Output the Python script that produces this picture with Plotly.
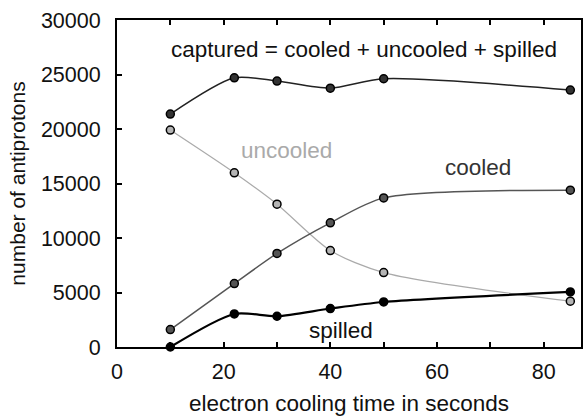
import plotly.graph_objects as go

# Electron cooling of antiprotons: counts vs cooling time
time_s = [10, 22, 30, 40, 50, 85]
captured = [21370, 24700, 24400, 23750, 24610, 23570]
uncooled = [19900, 15980, 13100, 8850, 6830, 4200]
cooled = [1600, 5820, 8580, 11390, 13680, 14390]
spilled = [0, 3030, 2820, 3530, 4130, 5050]

x_tick_vals = [0, 10, 20, 30, 40, 50, 60, 70, 80]
x_tick_text = ["0", "", "20", "", "40", "", "60", "", "80"]
y_tick_vals = [0, 5000, 10000, 15000, 20000, 25000, 30000]
y_tick_text = ["0", "5000", "10000", "15000", "20000", "25000", "30000"]

FONT = "Liberation Sans, Arial, Helvetica, sans-serif"
INK = "#111111"

series = [
    # name, values, line colour, line width, marker fill
    ("uncooled", uncooled, "#aaaaaa", 1.2, "#b4b4b4"),
    ("cooled", cooled, "#555555", 1.5, "#555555"),
    ("captured", captured, "#222222", 1.5, "#333333"),
    ("spilled", spilled, "#000000", 2.2, "#000000"),
]

fig = go.Figure()
for name, vals, lc, lw, mc in series:
    fig.add_trace(go.Scatter(
        x=time_s, y=vals, name=name, mode="lines+markers",
        line=dict(color=lc, width=lw, shape="spline", smoothing=0.75),
        marker=dict(size=8, color=mc, line=dict(color="#000000", width=1.5)),
        cliponaxis=False,
    ))

notes = [
    ("captured = cooled + uncooled + spilled", 46.4, 27250, INK),
    ("uncooled", 31.7, 18060, "#aaaaaa"),
    ("cooled", 67.7, 16440, "#333333"),
    ("spilled", 42.0, 1470, INK),
]
for txt, xv, yv, col in notes:
    fig.add_annotation(x=xv, y=yv, text=txt, showarrow=False,
                       font=dict(family=FONT, size=22.5, color=col),
                       xanchor="center", yanchor="middle")

fig.update_layout(
    width=585, height=419,
    margin=dict(l=117, r=2, t=20, b=72),
    paper_bgcolor="white", plot_bgcolor="white",
    showlegend=False,
    font=dict(family=FONT, size=21.5, color=INK),
)
fig.update_xaxes(
    range=[0, 87], tickvals=x_tick_vals, ticktext=x_tick_text,
    ticks="inside", ticklen=5, tickwidth=1.5, tickcolor="black",
    showline=True, linewidth=2, linecolor="black", mirror="ticks",
    showgrid=False, zeroline=False, ticklabelstandoff=4,
    tickfont=dict(family=FONT, size=21.5, color=INK),
    title=dict(text="electron cooling time in seconds",
               font=dict(family=FONT, size=22.5, color=INK), standoff=12),
)
fig.update_yaxes(
    range=[0, 30000], tickvals=y_tick_vals, ticktext=y_tick_text,
    ticks="inside", ticklen=5, tickwidth=1.5, tickcolor="black",
    showline=True, linewidth=2, linecolor="black", mirror=True,
    showgrid=False, zeroline=False, ticklabelstandoff=10,
    tickfont=dict(family=FONT, size=21.5, color=INK),
    title=dict(text="number of antiprotons",
               font=dict(family=FONT, size=21, color=INK), standoff=10),
)

fig.write_html("out.html")
